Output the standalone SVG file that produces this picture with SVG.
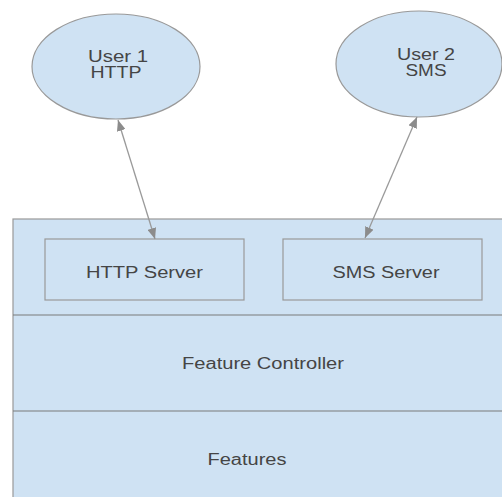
<svg xmlns="http://www.w3.org/2000/svg" width="502" height="497" viewBox="0 0 502 497">
  <style>
    .shape { fill: #cfe2f3; stroke: #999999; stroke-width: 1.2; }
    .div { stroke: #7a7a7a; stroke-width: 1.2; fill: none; }
    .lbl { font-family: "Liberation Sans", Arial, sans-serif; font-size: 16px; fill: #454545; text-anchor: middle; }
    .conn { stroke: #9a9a9a; stroke-width: 1.3; fill: none; marker-start: url(#arr); marker-end: url(#arr); }
  </style>
  <defs>
    <marker id="arr" viewBox="0 0 10 10" refX="10" refY="5" markerWidth="11" markerHeight="9" markerUnits="userSpaceOnUse" orient="auto-start-reverse" preserveAspectRatio="none">
      <path d="M0,0 L10,5 L0,10 Z" fill="#8c8c8c"/>
    </marker>
  </defs>
  <rect width="502" height="497" fill="#ffffff"/>

  <g id="stack">
    <rect class="shape" x="13" y="219" width="500" height="290"/>
    <line class="div" x1="13" y1="315" x2="502" y2="315"/>
    <line class="div" x1="13" y1="411" x2="502" y2="411"/>
  </g>

  <g id="user1">
    <ellipse class="shape" cx="116" cy="66.5" rx="84" ry="52.5"/>
    <text class="lbl" x="118" y="62" textLength="60" lengthAdjust="spacingAndGlyphs">User 1</text>
    <text class="lbl" x="116" y="77.5" textLength="51" lengthAdjust="spacingAndGlyphs">HTTP</text>
  </g>

  <g id="user2">
    <ellipse class="shape" cx="419" cy="64" rx="83" ry="53"/>
    <text class="lbl" x="426" y="60" textLength="58" lengthAdjust="spacingAndGlyphs">User 2</text>
    <text class="lbl" x="426" y="75.5" textLength="41" lengthAdjust="spacingAndGlyphs">SMS</text>
  </g>

  <g id="http-server">
    <rect class="shape" x="45" y="239" width="199" height="61"/>
    <text class="lbl" x="144.5" y="277.5" textLength="117" lengthAdjust="spacingAndGlyphs">HTTP Server</text>
  </g>

  <g id="sms-server">
    <rect class="shape" x="283" y="239" width="199" height="61"/>
    <text class="lbl" x="386" y="277.5" textLength="107" lengthAdjust="spacingAndGlyphs">SMS Server</text>
  </g>

  <g id="feature-controller">
    <text class="lbl" x="263" y="369" textLength="162" lengthAdjust="spacingAndGlyphs">Feature Controller</text>
  </g>

  <g id="features">
    <text class="lbl" x="247" y="465" textLength="79" lengthAdjust="spacingAndGlyphs">Features</text>
  </g>

  <g id="connectors">
    <line class="conn" x1="118" y1="120" x2="155" y2="239"/>
    <line class="conn" x1="417" y1="117" x2="365" y2="238"/>
  </g>
</svg>
